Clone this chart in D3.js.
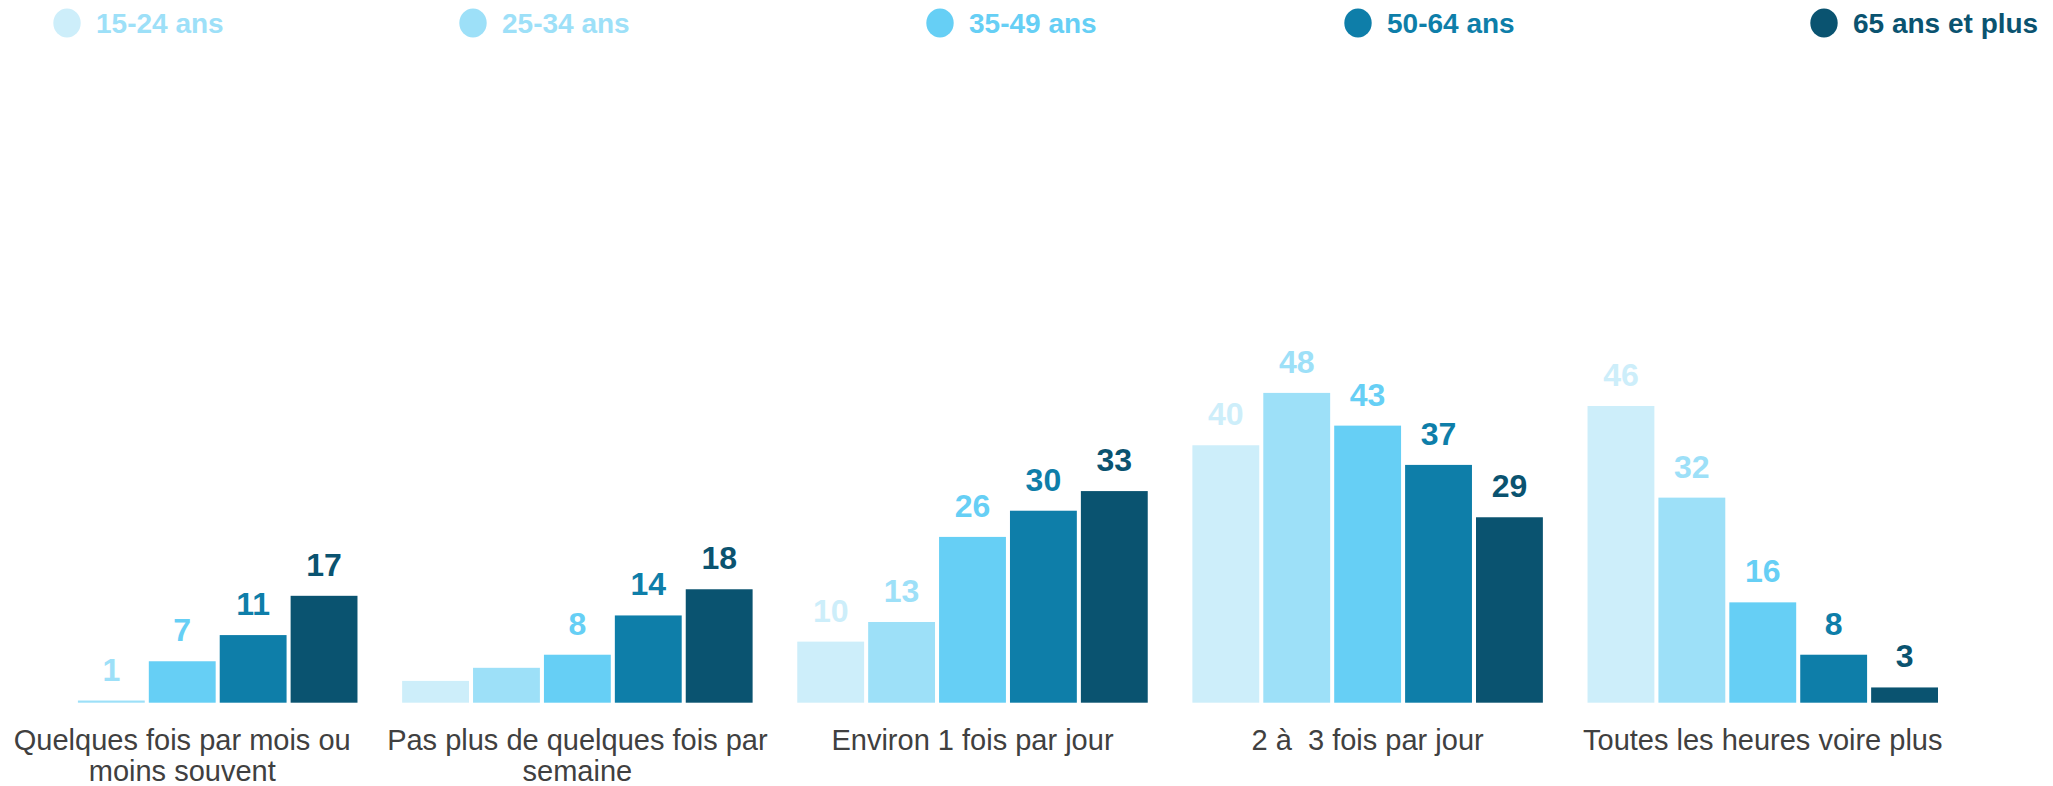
<!DOCTYPE html>
<html>
<head>
<meta charset="utf-8">
<script src="https://cdn.jsdelivr.net/npm/d3@7"></script>
<style>
  body { margin: 0; background: #fff; }
  text { font-family: "Liberation Sans", Arial, sans-serif; }
</style>
</head>
<body>
<script>
// categories (x groups), "\n" marks the line break of the tick label
var categories = [
    "Quelques fois par mois ou\nmoins souvent",
    "Pas plus de quelques fois par\nsemaine",
    "Environ 1 fois par jour",
    "2 à  3 fois par jour",
    "Toutes les heures voire plus"
];

var series = ["15-24 ans", "25-34 ans", "35-49 ans", "50-64 ans", "65 ans et plus"];

// values per age group, one entry per category
var v15_24 = [0, 4, 10, 40, 46];
var v25_34 = [1, 6, 13, 48, 32];
var v35_49 = [7, 8, 26, 43, 16];
var v50_64 = [11, 14, 30, 37, 8];
var v65plus = [17, 18, 33, 29, 3];

// value labels that are not shown on the chart ("category-series")
var hiddenLabels = ["0-0", "1-0", "1-1"];

var colors = ["#cdeefa", "#9de0f8", "#66cff5", "#0e7ea9", "#0a5370"];
// the first legend entry's text is a shade darker than its dot
var legendTextColors = ["#9de0f8", "#9de0f8", "#66cff5", "#0e7ea9", "#0a5370"];

var width = 2053, height = 786;
var baseline = 702.7;

var allValues = [v15_24, v25_34, v35_49, v50_64, v65plus];

var data = categories.map(function(c, i) {
    return {
        key: c,
        index: i,
        values: series.map(function(s, j) {
            return { cat: i, series: j, value: allValues[j][i] };
        })
    };
});

var svg = d3.select("body").append("svg")
    .attr("width", width)
    .attr("height", height);

var x0 = d3.scaleBand().domain(categories).range([7, 1938]).paddingInner(0.113).paddingOuter(0);
var x1 = d3.scaleBand().domain(d3.range(series.length)).range([0, x0.bandwidth()]).paddingInner(0.057);

// axis minimum sits a bit above zero, so very small values barely show
var yScale = d3.scaleLinear().domain([0.67, 48]).range([baseline, 392.9]);

var groups = svg.selectAll(".group")
    .data(data)
    .enter()
    .append("g")
    .attr("class", "group")
    .attr("transform", function(d) { return "translate(" + x0(d.key) + ",0)"; });

groups.selectAll("rect")
    .data(function(d) { return d.values.filter(function(v) { return yScale(v.value) < baseline; }); })
    .enter()
    .append("rect")
    .attr("x", function(d) { return x1(d.series); })
    .attr("y", function(d) { return yScale(d.value); })
    .attr("width", x1.bandwidth())
    .attr("height", function(d) { return baseline - yScale(d.value); })
    .attr("fill", function(d) { return colors[d.series]; });

groups.selectAll(".label")
    .data(function(d) {
        return d.values.filter(function(v) {
            return hiddenLabels.indexOf(v.cat + "-" + v.series) < 0 && v.value > 0;
        });
    })
    .enter()
    .append("text")
    .attr("class", "label")
    .attr("x", function(d) { return x1(d.series) + x1.bandwidth() / 2; })
    .attr("y", function(d) { return Math.min(yScale(d.value), baseline) - 20; })
    .attr("text-anchor", "middle")
    .attr("font-size", "32px")
    .attr("font-weight", "bold")
    .attr("fill", function(d) { return colors[d.series]; })
    .text(function(d) { return d.value; });

// category axis (no line, no ticks), labels wrapped on "\n"
var xAxis = d3.axisBottom(x0).tickSize(0).tickPadding(0);
var gx = svg.append("g")
    .attr("class", "xAxis")
    .attr("transform", "translate(0," + baseline + ")")
    .call(xAxis);
gx.select(".domain").remove();
gx.selectAll("text").each(function(d) {
    var t = d3.select(this);
    var lines = d.split("\n");
    t.text(null)
        .attr("y", 47.3)
        .attr("dy", null)
        .attr("font-size", "29px")
        .attr("font-family", "Liberation Sans, Arial, sans-serif")
        .attr("fill", "#404040")
        .style("white-space", "pre");
    lines.forEach(function(line, i) {
        t.append("tspan")
            .attr("x", 0)
            .attr("dy", i === 0 ? 0 : 31.5)
            .text(line);
    });
});

// legend across the top
var legendX = [67, 473, 940, 1358, 1824];
var legend = svg.selectAll(".legend")
    .data(series)
    .enter()
    .append("g")
    .attr("class", "legend")
    .attr("transform", function(d, i) { return "translate(" + legendX[i] + ",23)"; });

legend.append("ellipse")
    .attr("rx", 13.7)
    .attr("ry", 14.5)
    .attr("fill", function(d, i) { return colors[i]; });

legend.append("text")
    .attr("x", 29)
    .attr("y", 9.7)
    .attr("font-size", "28px")
    .attr("font-weight", "bold")
    .attr("fill", function(d, i) { return legendTextColors[i]; })
    .text(function(d) { return d; });
</script>
</body>
</html>
